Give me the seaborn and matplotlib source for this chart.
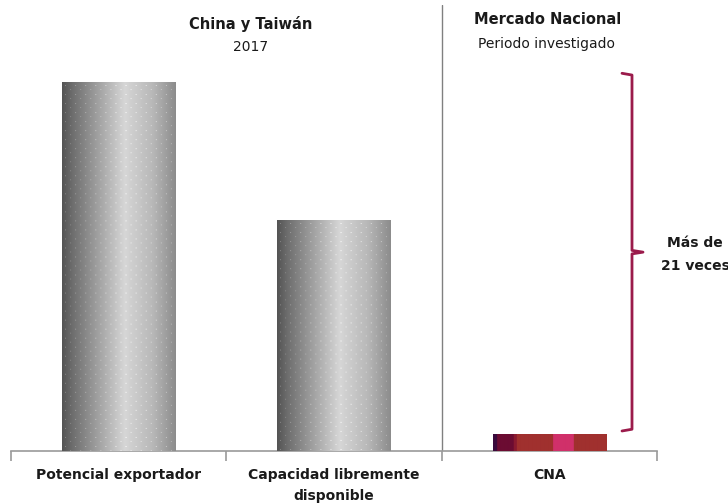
import numpy as np
import pandas as pd
import matplotlib
matplotlib.use("Agg")
import matplotlib.pyplot as plt
import matplotlib.transforms as mtransforms
import seaborn as sns

# Data (relative magnitudes, CNA = 1)
categories = ["Potencial exportador", "Capacidad libremente\ndisponible", "CNA"]
values = [21.2, 13.3, 1.0]
group_titles = ["China y Taiwán", "Mercado Nacional"]
group_subtitles = ["2017", "Periodo investigado"]
brace_label = "Más de\n21 veces"

# CNA bar colour bands (left -> right) and their relative widths
cna_colors = ["#3a0a3c", "#6b0c32", "#8a1a30", "#a0302e", "#d0306a", "#a0302e"]
cna_widths = [4, 16, 3, 35, 20, 32]

sns.set_theme(style="white")
plt.rcParams["font.family"] = ["DejaVu Sans"]

df = pd.DataFrame({"cat": categories, "val": values})

fig = plt.figure(figsize=(7.28, 5.03), dpi=100)
ax = fig.add_axes([11 / 728, 52 / 503, 646 / 728, 446 / 503])

sns.barplot(data=df, x="cat", y="val", width=0.525, color="#999999", ax=ax)

ymax = values[0] * 446 / 369


def cylinder(w, h):
    t = np.linspace(0, 1, w)
    shade = np.interp(t, [0, 0.08, 0.55, 0.8, 1], [0.33, 0.42, 0.84, 0.72, 0.55])
    img = np.tile(shade, (h, 1))
    img[4::9, 3::10] = np.minimum(img[4::9, 3::10] + 0.16, 1)
    img[8::9, 8::10] = np.minimum(img[8::9, 8::10] + 0.12, 1)
    return np.dstack([img] * 3)


px_per_unit = 446 / ymax
for i, p in enumerate(ax.patches):
    x0, w, h = p.get_x(), p.get_width(), p.get_height()
    if i < 2:
        img = cylinder(113, max(int(h * px_per_unit), 2))
    else:
        cols = np.concatenate([[matplotlib.colors.to_rgb(c)] * n
                               for c, n in zip(cna_colors, cna_widths)])
        img = np.tile(cols[None, :, :], (18, 1, 1))
        img[0, :, :] *= 0.6
    im = ax.imshow(img, extent=(x0, x0 + w, 0, h), aspect="auto",
                   interpolation="bilinear", zorder=3)
    im.set_clip_path(p)
    p.set_facecolor("none")
    p.set_edgecolor("none")

ax.set_xlim(-0.5, 2.5)
ax.set_ylim(0, ymax)
ax.axvline(1.5, color="#808080", lw=1, zorder=1)

for s in ["left", "top", "right"]:
    ax.spines[s].set_visible(False)
ax.spines["bottom"].set_color("#9a9a9a")
ax.spines["bottom"].set_linewidth(1.2)
ax.set_yticks([])
ax.set_ylabel("")
ax.set_xlabel("")
ax.set_xticks([-0.5, 0.5, 1.5, 2.5])
ax.set_xticklabels([])
ax.tick_params(axis="x", which="major", length=7, width=1.2, color="#9a9a9a",
               direction="out", bottom=True)
ax.set_xticks([0, 1, 2], minor=True)
ax.set_xticklabels(categories, minor=True, fontsize=10, fontweight="bold",
                   color="#1a1a1a", linespacing=1.65)
ax.tick_params(axis="x", which="minor", length=0, pad=12)

# group headers
fig.text(251 / 728, 1 - 24 / 503, group_titles[0], ha="center", va="center",
         fontsize=10.5, fontweight="bold", color="#1a1a1a")
fig.text(251 / 728, 1 - 47 / 503, group_subtitles[0], ha="center", va="center",
         fontsize=10, color="#1a1a1a")
fig.text(548 / 728, 1 - 20 / 503, group_titles[1], ha="center", va="center",
         fontsize=10.5, fontweight="bold", color="#1a1a1a")
fig.text(547 / 728, 1 - 44 / 503, group_subtitles[1], ha="center", va="center",
         fontsize=10, color="#1a1a1a")

# brace between CNA and the export potential
trans = mtransforms.blended_transform_factory(ax.transAxes, ax.transData)
y_lo = values[2] + 0.15
y_hi = values[0] + 0.5
y_mid = (y_lo + y_hi) / 2
xa, xb, xc = (622 - 11) / 646, (632 - 11) / 646, (643 - 11) / 646
brace_col = "#9b1b4b"
ax.plot([xa, xb, xb, xc, xb, xb, xa],
        [y_hi, y_hi - 0.1, y_mid + 0.1, y_mid, y_mid - 0.1, y_lo + 0.1, y_lo],
        transform=trans, color=brace_col, lw=2, clip_on=False,
        solid_joinstyle="round")
ax.text((695 - 11) / 646, y_mid - 0.15, brace_label, transform=trans, ha="center",
        va="center", fontsize=10, fontweight="bold", color="#1a1a1a",
        linespacing=1.8, clip_on=False)

fig.savefig("out.png", dpi=100)
